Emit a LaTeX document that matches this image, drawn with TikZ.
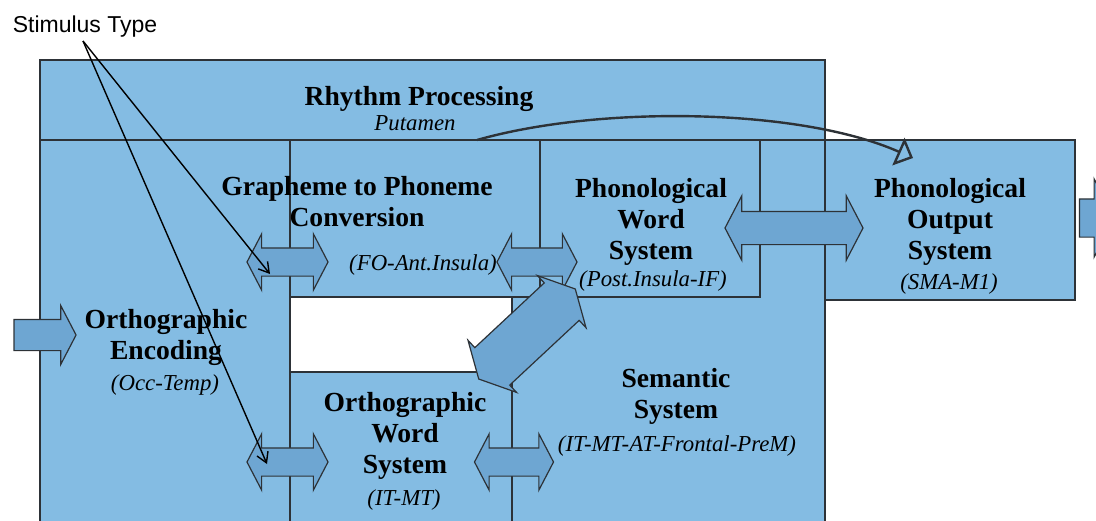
\documentclass[tikz,border=0pt]{standalone}
\usepackage{fontspec}
\setmainfont{Liberation Serif}
\setsansfont{Liberation Sans}
\usetikzlibrary{positioning,arrows.meta,shapes.arrows}
\definecolor{boxblue}{RGB}{132,188,227}
\definecolor{arrowblue}{RGB}{110,166,210}
\definecolor{edgegray}{RGB}{45,50,55}

\begin{document}
\begin{tikzpicture}[x=0.5pt,y=-0.5pt,
  region/.style={draw=edgegray,line width=1.2pt,fill=boxblue},
  gap/.style={draw=edgegray,line width=1.2pt,fill=white},
  title/.style={font=\bfseries\fontsize{13.8}{15.5}\selectfont,align=center,inner sep=0pt},
  area/.style={font=\itshape\fontsize{11.4}{13}\selectfont,inner sep=0pt},
  blockarrow/.style={draw=edgegray,line width=0.6pt,fill=arrowblue,inner xsep=0pt,minimum width=0pt},
  dbl/.style={blockarrow,double arrow,double arrow tip angle=125,double arrow head extend=7pt},
  sgl/.style={blockarrow,single arrow,single arrow tip angle=125,single arrow head extend=7pt},
  pointer/.style={-{Straight Barb[length=5pt,width=6pt]},line width=0.7pt}]
\useasboundingbox (0,0) rectangle (1096,520);
\clip (0,0) rectangle (1096,520);

% regions
\draw[region] (40,60) rectangle (825,530);
\draw[region] (825,140) rectangle (1075,300);
\draw[region] (40,140) rectangle (290,530);
\draw[region] (290,140) rectangle (540,297);
\draw[region] (540,140) rectangle (760,297);
\draw[gap] (290,297) rectangle (512,372);
\draw[region] (290,372) rectangle (512,530);
\draw[draw=edgegray,line width=1.2pt] (40,140) -- (825,140);

% labels
\node[title] (rhythm) at (419,99) {Rhythm Processing};
\node[area] (putamen) at (415,123) {Putamen};
\node[title] (g2p) at (357,202) {Grapheme to Phoneme\\Conversion};
\node[area] (g2parea) at (423,265) {(FO-Ant.Insula)};
\node[title] (pword) at (651,222) {Phonological\\Word\\System};
\node[area] (pwordarea) at (653,281) {(Post.Insula-IF)};
\node[title] (pout) at (950,222) {Phonological\\Output\\System};
\node[area] (poutarea) at (949,284) {(SMA-M1)};
\node[title] (enc) at (166,337) {Orthographic\\Encoding};
\node[area] (encarea) at (165,385) {(Occ-Temp)};
\node[title] (oword) at (405,436) {Orthographic\\Word\\System};
\node[area] (owordarea) at (404,500) {(IT-MT)};
\node[title] (sem) at (676,396) {Semantic\\System};
\node[area] (semarea) at (677,446) {(IT-MT-AT-Frontal-PreM)};

% block arrows
\node[sgl,minimum height=31pt,inner ysep=7.5pt] (inarr) at (41,335) {};
\node[dbl,minimum height=40.5pt,inner ysep=6.75pt] (ga1) at (287.5,262) {};
\node[dbl,minimum height=40pt,inner ysep=6.75pt] (ga2) at (537,262) {};
\node[dbl,minimum height=69pt,inner ysep=8pt,double arrow head extend=7.75pt] (pa) at (794,228) {};
\node[sgl,minimum height=17.5pt,inner ysep=9.25pt,single arrow head extend=10pt] (oa) at (1092,218) {};
\node[dbl,minimum height=40.5pt,inner ysep=6.75pt] (wa1) at (287.5,462) {};
\node[dbl,minimum height=39.5pt,inner ysep=6.75pt] (wa2) at (514,462) {};
\node[dbl,minimum height=66pt,inner ysep=12.5pt,double arrow head extend=5pt,rotate=43] (da) at (527,334) {};

% curved link
\coordinate (putfoot) at (477,140);
\coordinate (outtop) at (913,158);
\draw[line width=1.2pt,draw=edgegray,-{Triangle[length=8pt,width=15pt,fill=boxblue]}]
  (putfoot) .. controls (600,105) and (800,108) .. (outtop);

% stimulus pointers
\node[font=\sffamily\fontsize{11.5}{13}\selectfont,inner sep=0pt] (stim) at (85,27) {Stimulus Type};
\coordinate (stimfoot) at (83,41);
\coordinate (gtip) at (270,274);
\coordinate (otip) at (267,464);
\draw[pointer] (stimfoot) -- (gtip);
\draw[pointer] (stimfoot) -- (otip);
\end{tikzpicture}
\end{document}
